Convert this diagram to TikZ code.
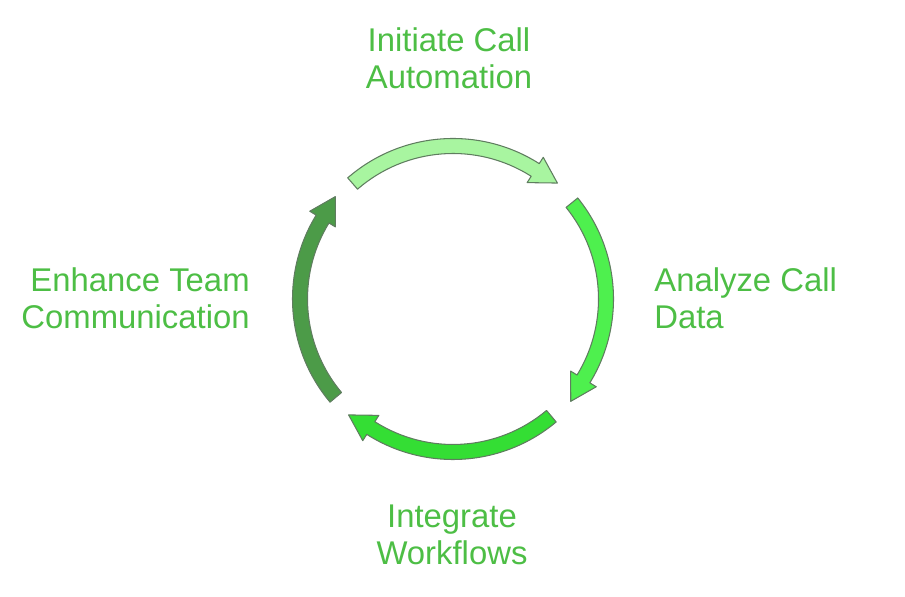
\documentclass[tikz,border=0pt]{standalone}
\usepackage{fontspec}
\setmainfont{Liberation Sans}
\definecolor{txt}{RGB}{77,190,69}
\definecolor{edge}{RGB}{95,125,95}
\definecolor{ctop}{RGB}{168,245,160}
\definecolor{cright}{RGB}{78,240,78}
\definecolor{cbottom}{RGB}{52,222,52}
\definecolor{cleft}{RGB}{76,155,72}
\newcommand{\arcarrow}[3]{%
  \pgfmathsetmacro{\myah}{#2+9.5}%
  \path[arr, fill=#3] ([shift={(C)}]#1:160.5) arc[start angle=#1, end angle=\myah, radius=160.5]
    -- ([shift={(C)}]\myah:168) -- ([shift={(C)}]#2:156) -- ([shift={(C)}]\myah:138)
    -- ([shift={(C)}]\myah:145.5) arc[start angle=\myah, end angle=#1, radius=145.5] -- cycle;}
\begin{document}
\begin{tikzpicture}[x=0.02cm,y=0.02cm,
  lbl/.style={text=txt, font=\fontsize{18.7}{21}\selectfont, inner sep=0pt},
  arr/.style={draw=edge, line width=0.6pt, line join=round}]
\useasboundingbox (0,0) rectangle (905,597);
\coordinate (C) at (453,298);
\arcarrow{131}{48}{ctop}
\arcarrow{39}{-41}{cright}
\arcarrow{-50}{-132}{cbottom}
\arcarrow{220}{139}{cleft}
\node[lbl, align=center] (top) at (449,539) {Initiate Call\\Automation};
\node[lbl, align=left, anchor=west] (right) at (654,299) {Analyze Call\\Data};
\node[lbl, align=center] (bottom) at (452,62) {Integrate\\Workflows};
\node[lbl, align=right, anchor=east] (left) at (250,299) {Enhance Team\\Communication};
\end{tikzpicture}
\end{document}
